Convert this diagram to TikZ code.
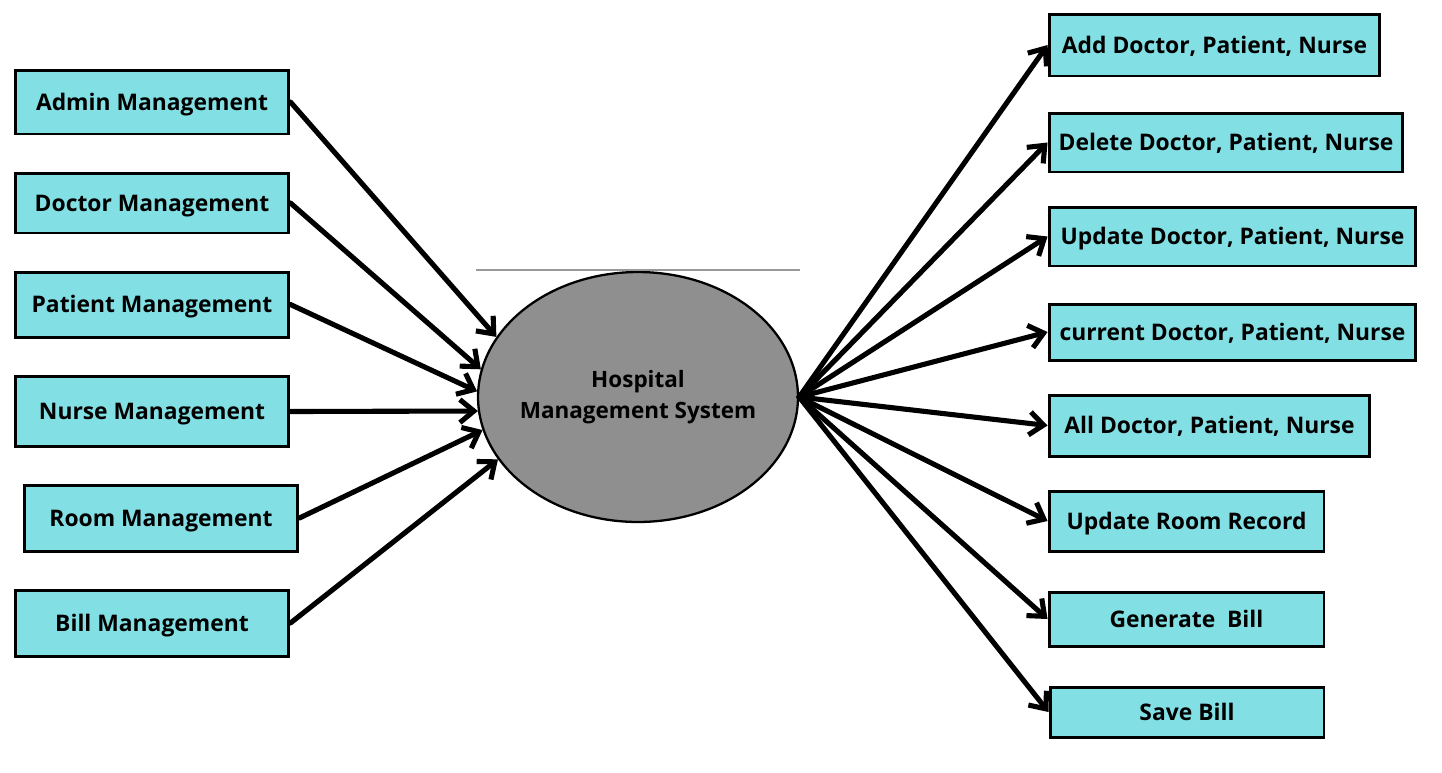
\documentclass[tikz,border=0pt]{standalone}
\usepackage{fontspec}
\setmainfont{Open Sans}
\usetikzlibrary{arrows.meta,shapes.geometric}
\definecolor{boxcyan}{HTML}{82DFE4}
\definecolor{sysgray}{HTML}{8F8F8F}
\begin{document}
\begin{tikzpicture}[x=0.02cm,y=-0.02cm,
  box/.style={draw,line width=1.7pt,fill=boxcyan,inner sep=0pt,text height=9.3pt,text depth=-2pt,font=\fontsize{13}{15}\selectfont\bfseries},
  sys/.style={draw,ellipse,line width=1.3pt,fill=sysgray,inner sep=-0.6cm,align=center,minimum width=6.4cm,minimum height=5cm,font=\fontsize{12.8}{17.6}\selectfont\bfseries},
  arr/.style={-{Straight Barb[length=0.28cm,width=0.46cm]},line width=2.9pt,line cap=round,line join=round}]
  \useasboundingbox (0,0) rectangle (1442,772);
  \node (hms) [sys] at (638,397) {Hospital\\Management System};
  \draw[gray!80,line width=0.6pt] (476,270) -- (800,270);
  \node (admin) [box,minimum width=5.48cm,minimum height=1.28cm] at (152,102) {Admin Management};
  \node (doctor) [box,minimum width=5.48cm,minimum height=1.2cm] at (152,203) {Doctor Management};
  \node (patient) [box,minimum width=5.48cm,minimum height=1.3cm] at (152,304.5) {Patient Management};
  \node (nurse) [box,minimum width=5.48cm,minimum height=1.4cm] at (152,411.5) {Nurse Management};
  \node (room) [box,minimum width=5.48cm,minimum height=1.32cm] at (161,518) {Room Management};
  \node (bill) [box,minimum width=5.48cm,minimum height=1.32cm] at (152,623) {Bill Management};
  \node (add) [box,minimum width=6.62cm,minimum height=1.24cm] at (1214.5,45) {Add Doctor, Patient, Nurse};
  \node (del) [box,minimum width=7.08cm,minimum height=1.18cm] at (1226,142.5) {Delete Doctor, Patient, Nurse};
  \node (upd) [box,minimum width=7.34cm,minimum height=1.18cm] at (1232.5,236.5) {Update Doctor, Patient, Nurse};
  \node (cur) [box,minimum width=7.34cm,minimum height=1.12cm] at (1232.5,332) {current Doctor, Patient, Nurse};
  \node (all) [box,minimum width=6.42cm,minimum height=1.22cm] at (1209.5,425.5) {All Doctor, Patient, Nurse};
  \node (uroom) [box,minimum width=5.5cm,minimum height=1.2cm] at (1186.5,521) {Update Room Record};
  \node (gen) [box,minimum width=5.5cm,minimum height=1.08cm] at (1186.5,619) {Generate~~Bill};
  \node (save) [box,minimum width=5.48cm,minimum height=1cm] at (1187,712) {Save Bill};
  \draw[arr] (admin.east) -- (hms.157);
  \draw[arr] (doctor.east) -- (hms.170);
  \draw[arr] (patient.east) -- (hms.178);
  \draw[arr] (nurse.east) -- (hms.185);
  \draw[arr] (room.east) -- (hms.192);
  \draw[arr] (bill.east) -- (hms.204);
  \draw[arr] (hms.east) -- (add.west);
  \draw[arr] (hms.east) -- (del.west);
  \draw[arr] (hms.east) -- (upd.west);
  \draw[arr] (hms.east) -- (cur.west);
  \draw[arr] (hms.east) -- (all.west);
  \draw[arr] (hms.east) -- (uroom.west);
  \draw[arr] (hms.east) -- (gen.west);
  \draw[arr] (hms.east) -- (save.west);
\end{tikzpicture}
\end{document}
